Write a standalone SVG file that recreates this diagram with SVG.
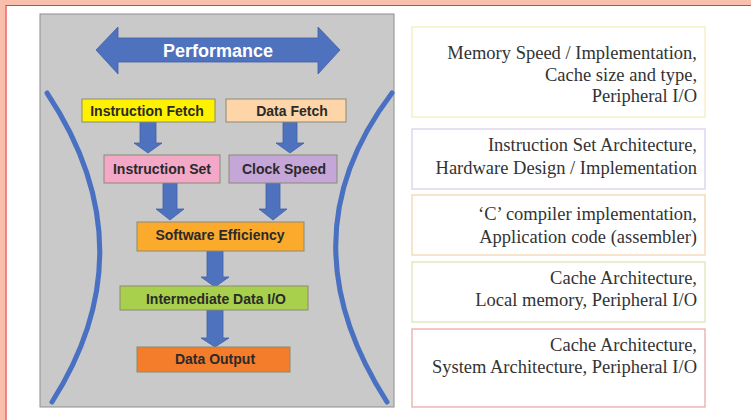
<svg xmlns="http://www.w3.org/2000/svg" width="751" height="420" viewBox="0 0 751 420">
<style>
.arrow{fill:#4F72BF;stroke:#3F5FA8;stroke-width:0.8}
.box{stroke:#8C8A72;stroke-width:1}
.bt{font-family:"Liberation Sans",Arial,sans-serif;font-weight:bold;font-size:14px;fill:#2A2A2A;text-anchor:middle}
.rb{fill:#FFFFFF;stroke-width:1.2}
.rt{font-family:"Liberation Serif","Times New Roman",serif;font-size:18.5px;fill:#333333;text-anchor:end}
.curve{fill:none;stroke:#4A70C2;stroke-width:5;stroke-linecap:round}
</style>
<rect x="0" y="0" width="751" height="420" fill="#FFFFFF"/>
<rect x="0" y="0" width="751" height="5" fill="#F8C0AC"/>
<rect x="0" y="0" width="5.5" height="420" fill="#F8C0AC"/>
<line x1="5.5" y1="5.5" x2="751" y2="5.5" stroke="#F03838" stroke-width="1.2"/>
<line x1="6" y1="5.5" x2="6" y2="420" stroke="#F03838" stroke-width="1.2"/>
<g id="panel">
<rect x="40" y="14" width="354" height="393" fill="#C9C9C9" stroke="#8E8E8E" stroke-width="1"/>
<path class="curve" d="M47,93 Q150,248 52,402"/>
<path class="curve" d="M392,93 Q282,238 387,402"/>
</g>
<g id="performance">
<polygon class="arrow" points="96,50 118,27 118,38 318,38 318,27 340,50 318,74 318,62 118,62 118,74"/>
<text x="218" y="56.5" font-family="Liberation Sans,Arial,sans-serif" font-weight="bold" font-size="18" fill="#FFFFFF" text-anchor="middle">Performance</text>
</g>
<g id="connectors">
<polygon class="arrow" points="140,122 156,122 156,143 162,143 148,153 134,143 140,143"/>
<polygon class="arrow" points="283,122 297,122 297,143 304,143 290,153 276,143 283,143"/>
<polygon class="arrow" points="163,183 177,183 177,209 184,209 170,220 156,209 163,209"/>
<polygon class="arrow" points="266,183 280,183 280,209 287,209 273,220 259,209 266,209"/>
<polygon class="arrow" points="207,251 223,251 223,277 229,277 215,287 201,277 207,277"/>
<polygon class="arrow" points="207,310 223,310 223,338 229,338 215,347 201,338 207,338"/>
</g>
<g id="instruction-fetch">
<rect class="box" x="82" y="99" width="133" height="23" fill="#FFF200"/>
<text class="bt" x="147" y="116">Instruction Fetch</text>
</g>
<g id="data-fetch">
<rect class="box" x="226" y="99" width="120" height="23" fill="#FDD5A8"/>
<text class="bt" x="292" y="116">Data Fetch</text>
</g>
<g id="instruction-set">
<rect class="box" x="104" y="155" width="116" height="28" fill="#F4A8C8"/>
<text class="bt" x="162" y="174">Instruction Set</text>
</g>
<g id="clock-speed">
<rect class="box" x="229" y="155" width="108" height="28" fill="#C4A6D8"/>
<text class="bt" x="284" y="174">Clock Speed</text>
</g>
<g id="software-efficiency">
<rect class="box" x="137" y="222" width="167" height="29" fill="#FBAA2C"/>
<text class="bt" x="220" y="240">Software Efficiency</text>
</g>
<g id="intermediate-data-io">
<rect class="box" x="120" y="286" width="188" height="24" fill="#A8D04C"/>
<text class="bt" x="216" y="304">Intermediate Data I/O</text>
</g>
<g id="data-output">
<rect class="box" x="137" y="347" width="153" height="25" fill="#F47D2C"/>
<text class="bt" x="215" y="364">Data Output</text>
</g>
<g id="memory-box">
<rect class="rb" x="412" y="27" width="293" height="90" stroke="#F0EDB4"/>
<text class="rt" x="697" y="59">Memory Speed / Implementation,</text>
<text class="rt" x="697" y="81">Cache size and type,</text>
<text class="rt" x="697" y="102">Peripheral I/O</text>
</g>
<g id="isa-box">
<rect class="rb" x="412" y="129" width="293" height="60" stroke="#D8CCEA"/>
<text class="rt" x="697" y="151">Instruction Set Architecture,</text>
<text class="rt" x="697" y="174">Hardware Design / Implementation</text>
</g>
<g id="compiler-box">
<rect class="rb" x="412" y="195" width="293" height="60" stroke="#F2D2AC"/>
<text class="rt" x="697" y="220">‘C’ compiler implementation,</text>
<text class="rt" x="697" y="243">Application code (assembler)</text>
</g>
<g id="cache-local-box">
<rect class="rb" x="412" y="262" width="293" height="60" stroke="#D6E6B2"/>
<text class="rt" x="697" y="284">Cache Architecture,</text>
<text class="rt" x="697" y="306">Local memory, Peripheral I/O</text>
</g>
<g id="cache-system-box">
<rect class="rb" x="412" y="329" width="293" height="78" stroke="#E8A4A4"/>
<text class="rt" x="697" y="351">Cache Architecture,</text>
<text class="rt" x="697" y="373">System Architecture, Peripheral I/O</text>
</g>
</svg>
